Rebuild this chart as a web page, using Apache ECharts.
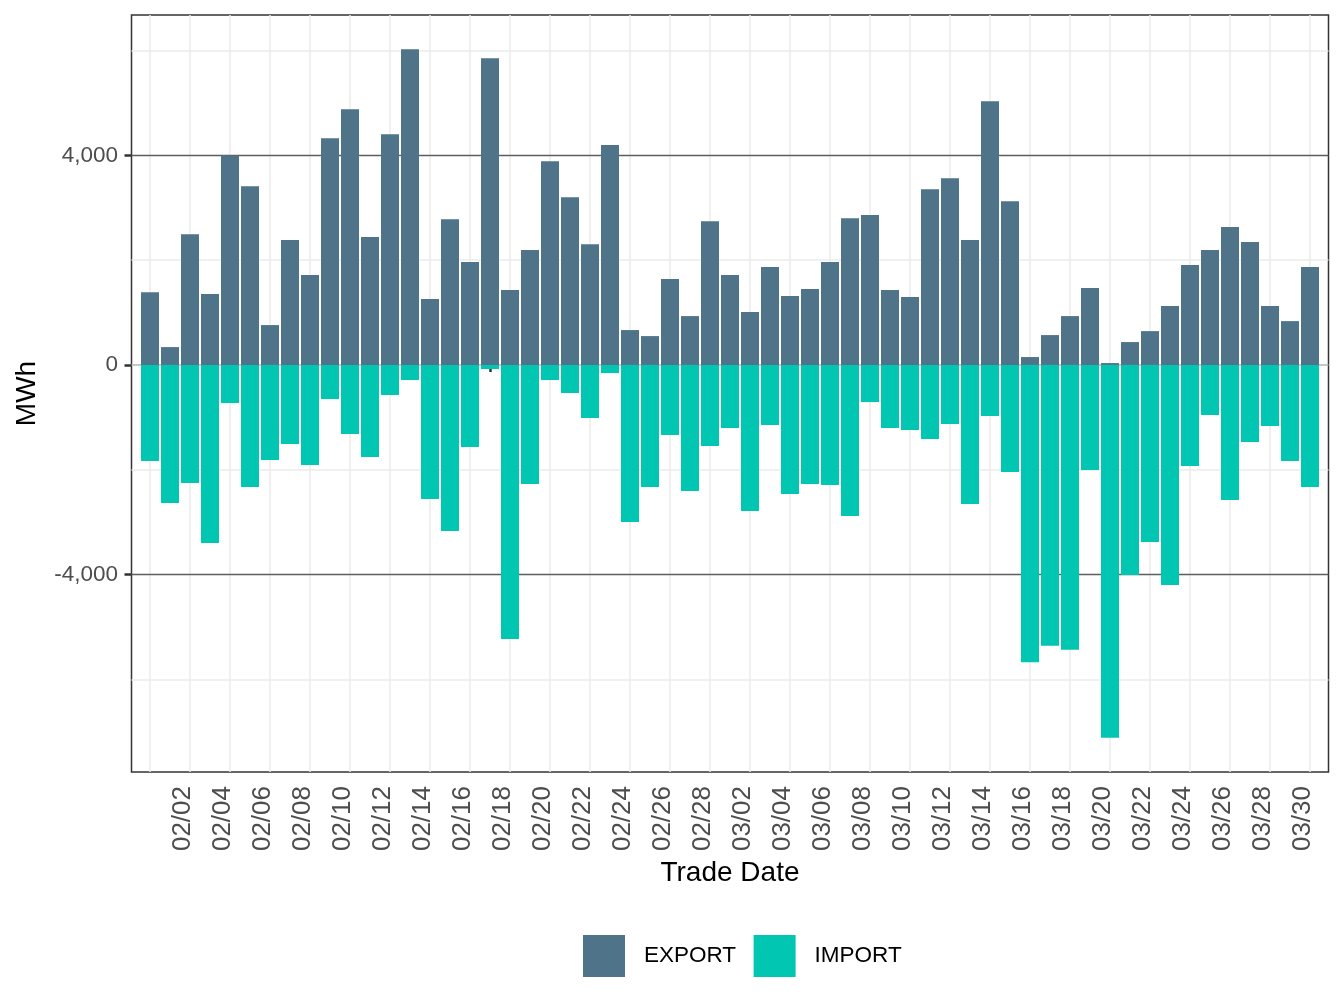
<!DOCTYPE html>
<html>
<head>
<meta charset="utf-8">
<script src="https://cdn.jsdelivr.net/npm/echarts@6/dist/echarts.min.js"></script>
<style>
  html, body { margin: 0; padding: 0; background: #ffffff; }
  #chart { width: 1344px; height: 1008px; }
</style>
</head>
<body>
<div id="chart"></div>
<script>
// ---- Data ----
const tradeDates = [
  '02/01','02/02','02/03','02/04','02/05','02/06','02/07','02/08','02/09','02/10',
  '02/11','02/12','02/13','02/14','02/15','02/16','02/17','02/18','02/19','02/20',
  '02/21','02/22','02/23','02/24','02/25','02/26','02/27','02/28',
  '03/01','03/02','03/03','03/04','03/05','03/06','03/07','03/08','03/09','03/10',
  '03/11','03/12','03/13','03/14','03/15','03/16','03/17','03/18','03/19','03/20',
  '03/21','03/22','03/23','03/24','03/25','03/26','03/27','03/28','03/29','03/30','03/31'
];
const exportMWh = [
  1390, 341, 2497, 1353, 4000, 3413, 761, 2383, 1715, 4328,
  4882, 2440, 4405, 6026, 1257, 2783, 1963, 5855, 1429, 2192,
  3890, 3203, 2306, 4199, 666, 551, 1639, 933,
  2745, 1715, 1009, 1868, 1314, 1448, 1963, 2802, 2860, 1429,
  1295, 3355, 3565, 2383, 5032, 3127, 151, 570, 933, 1467,
  36, 437, 646, 1124, 1906, 2192, 2631, 2345, 1124, 837, 1868
];
const importMWh = [
  -1833, -2635, -2253, -3398, -727, -2329, -1814, -1509, -1910, -651,
  -1318, -1757, -574, -288, -2558, -3169, -1566, -78, -5229, -2272,
  -288, -536, -1013, -155, -2997, -2329, -1337, -2405,
  -1547, -1204, -2787, -1146, -2463, -2272, -2291, -2883, -708, -1204,
  -1242, -1414, -1128, -2654, -975, -2043, -5675, -5361, -5437, -2005,
  -7118, -4008, -3378, -4199, -1929, -956, -2577, -1471, -1166, -1833, -2329
];
const seriesNames = ['EXPORT', 'IMPORT'];
const yTickValues = [-4000, 0, 4000];
const yGridMinor = [-6000, -2000, 2000, 6000];
const yGridMajor = [-4000, 4000];
const yGridZero = [0];
const yMin = -7770;
const yMax = 6680;

// ---- Styles ----
const FONT = 'Liberation Sans, Arial, Helvetica, sans-serif';
const colExport = '#4F7489';
const colImport = '#00C6B2';

const chart = echarts.init(document.getElementById('chart'), null, { renderer: 'canvas' });

const gridLines = [].concat(
  yGridMinor.map(v => ({ yAxis: v, lineStyle: { color: '#ebebeb', width: 1.5, type: 'solid' } })),
  yGridZero.map(v => ({ yAxis: v, lineStyle: { color: '#b5b5b5', width: 1.5, type: 'solid' } })),
  yGridMajor.map(v => ({ yAxis: v, lineStyle: { color: '#5e5e5e', width: 1.3, type: 'solid' } }))
);

const option = {
  animation: false,
  backgroundColor: '#ffffff',
  textStyle: { fontFamily: FONT },
  grid: [
    { left: 131.5, right: 15.5, top: 15, bottom: 236, show: true, borderColor: '#333333', borderWidth: 1.5,
      backgroundColor: 'transparent', containLabel: false, outerBoundsMode: 'none' },
    { left: 150, right: 34, top: 15, bottom: 236, show: false, containLabel: false, outerBoundsMode: 'none' }
  ],
  xAxis: [
    { gridIndex: 0, type: 'value', min: 0, max: 1, show: false },
    {
      gridIndex: 1, type: 'category', data: tradeDates, boundaryGap: false,
      axisLine: { show: false },
      axisTick: { show: true, length: 7, interval: (i) => i % 2 === 1, lineStyle: { color: '#333333', width: 2.5 } },
      axisLabel: {
        show: true, interval: (i) => i % 2 === 1, rotate: 90, fontSize: 26, color: '#4d4d4d',
        margin: 14, verticalAlign: 'top', fontFamily: FONT, hideOverlap: false
      },
      splitLine: { show: true, interval: (i) => i % 2 === 0, lineStyle: { color: '#ebebeb', width: 1.5 } },
      name: 'Trade Date', nameLocation: 'middle', nameGap: 84,
      nameTextStyle: { fontSize: 28, color: '#000000', fontFamily: FONT }
    }
  ],
  yAxis: [
    {
      gridIndex: 0, type: 'value', min: yMin, max: yMax,
      axisLine: { show: false },
      axisTick: { show: true, length: 7, customValues: yTickValues, lineStyle: { color: '#333333', width: 2.5 } },
      axisLabel: {
        customValues: yTickValues, fontSize: 22.5, color: '#4d4d4d', margin: 13.5, fontFamily: FONT,
        formatter: (v) => Number(v).toLocaleString('en-US')
      },
      splitLine: { show: false },
      name: 'MWh', nameLocation: 'middle', nameGap: 90, nameRotate: 90,
      nameTextStyle: { fontSize: 28, color: '#000000', fontFamily: FONT }
    },
    { gridIndex: 1, type: 'value', min: yMin, max: yMax, show: false, splitLine: { show: false } }
  ],
  legend: {
    data: seriesNames, left: 583, top: 935, orient: 'horizontal', padding: 0,
    icon: 'rect', itemWidth: 42, itemHeight: 42, itemGap: 17.5,
    textStyle: { fontSize: 22.5, color: '#000000', fontFamily: FONT, padding: [0, 0, 0, 14] }
  },
  series: [
    {
      type: 'line', xAxisIndex: 0, yAxisIndex: 0, data: [], z: 1, silent: true,
      markLine: { z: 1, symbol: ['none', 'none'], silent: true, animation: false, label: { show: false }, data: gridLines }
    },
    {
      name: seriesNames[0], type: 'bar', xAxisIndex: 1, yAxisIndex: 1, data: exportMWh,
      barWidth: '90%', barGap: '-100%', clip: false, z: 3, itemStyle: { color: colExport }
    },
    {
      name: seriesNames[1], type: 'bar', xAxisIndex: 1, yAxisIndex: 1, data: importMWh,
      barWidth: '90%', barGap: '-100%', clip: false, z: 3, itemStyle: { color: colImport }
    }
  ]
};
chart.setOption(option);
</script>
</body>
</html>
